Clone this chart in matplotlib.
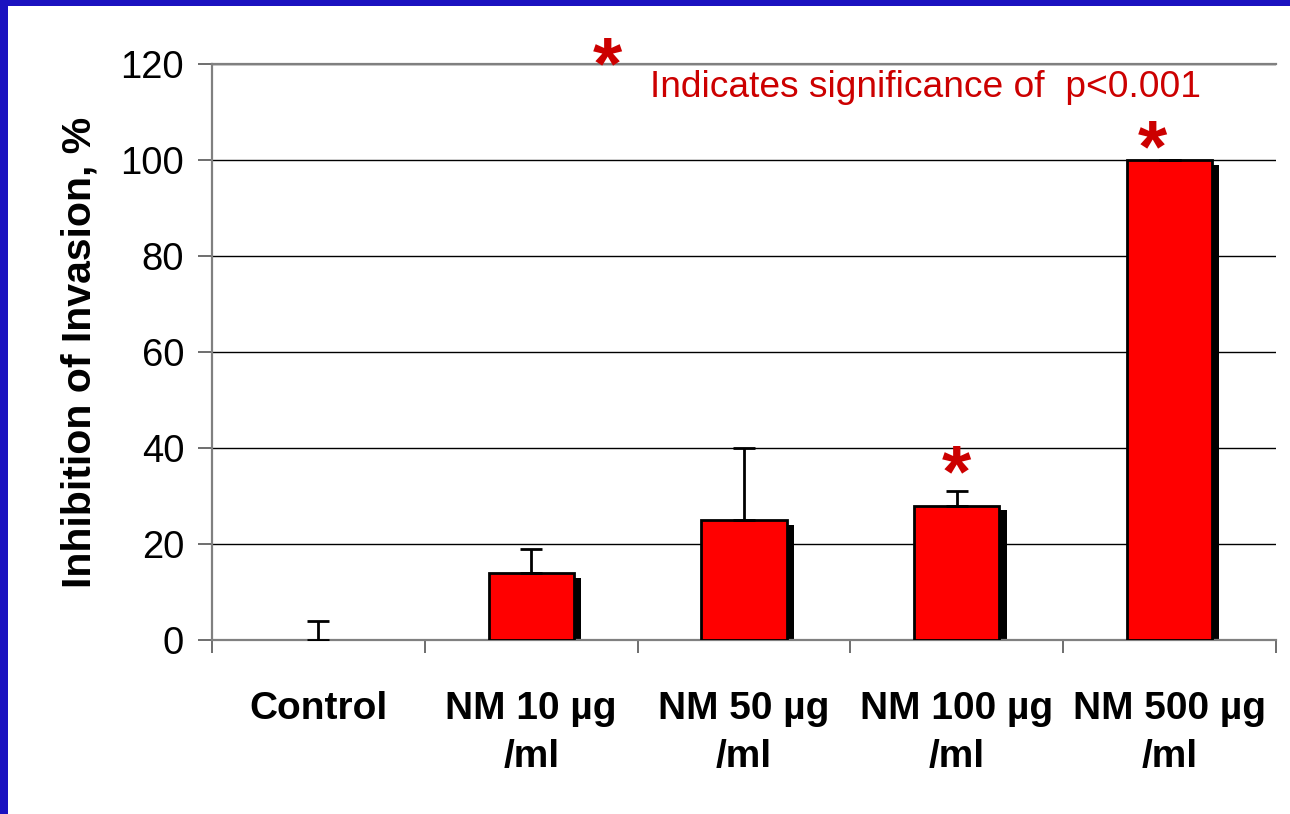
import matplotlib
matplotlib.use("Agg")
import matplotlib.pyplot as plt
from matplotlib.patches import Rectangle
import numpy as np

categories = ["Control", "NM 10 µg\n/ml", "NM 50 µg\n/ml", "NM 100 µg\n/ml", "NM 500 µg\n/ml"]
values = [0, 14, 25, 28, 100]
errors = [4, 5, 15, 3, 0]
star_heights = [None, None, None, 34, 101.8]
yticks = [0, 20, 40, 60, 80, 100, 120]
note_text = "Indicates significance of  p<0.001"

plt.rcParams['font.family'] = ['Liberation Sans', 'DejaVu Sans']

fig = plt.figure(figsize=(12.9, 8.14), dpi=100)
fig.patch.set_facecolor('white')
# blue frame
fig.patches.append(Rectangle((0, 1 - 6 / 814), 1, 6 / 814, transform=fig.transFigure,
                             facecolor='#1B12C0', edgecolor='none', zorder=0))
fig.patches.append(Rectangle((0, 0), 8 / 1290, 1, transform=fig.transFigure,
                             facecolor='#1B12C0', edgecolor='none', zorder=0))

ax = fig.add_axes([212 / 1290, (814 - 640) / 814, (1276 - 212) / 1290, (640 - 64) / 814])
x = np.arange(len(categories))
width = 0.4
sdx = 0.034
sdy = 1.0

# shadows and bars (skip zero-height bars)
for xi, v in zip(x, values):
    if v > 0:
        ax.bar(xi + sdx, max(v - sdy, 0), width=width, color='black', edgecolor='none', zorder=2)
        ax.bar(xi, v, width=width, color='#FF0000', edgecolor='black', linewidth=2, zorder=3)
ax.errorbar(x, values, yerr=[np.zeros(len(values)), errors], fmt='none', ecolor='black',
            elinewidth=2, capsize=8, capthick=2, zorder=4)

for xi, s in zip(x, star_heights):
    if s is not None:
        ax.text(xi - (0.08 if s > 100 else 0), s, '*', color='#CC0000', fontsize=54, fontweight='bold',
                ha='center', va='center', zorder=5)

ax.text(1.356, 119.0, '*', color='#CC0000', fontsize=54, fontweight='bold', ha='center', va='center',
        clip_on=False)
ax.text(1.56, 115.2, note_text, color='#CC0000', fontsize=26.7, ha='left', va='center')

ax.set_xlim(-0.5, len(categories) - 0.5)
ax.set_ylim(0, 120)
ax.set_yticks(yticks)
ax.set_yticklabels([str(t) for t in yticks], fontsize=27.5)
ax.yaxis.grid(True, color='black', linewidth=1)
ax.set_axisbelow(True)

ax.set_xticks(x)
ax.set_xticklabels(categories, fontsize=28, fontweight='bold', linespacing=1.42, va='top')
ax.set_xticks(np.arange(len(categories) + 1) - 0.5, minor=True)
ax.tick_params(axis='x', which='major', length=0, pad=37)
ax.tick_params(axis='x', which='minor', length=9, width=1.2, color='#555555')
ax.tick_params(axis='y', length=10, width=1.2, color='#555555', pad=10)

for s in ['left', 'bottom', 'top']:
    ax.spines[s].set_color('#808080')
    ax.spines[s].set_linewidth(1.6)
ax.spines['right'].set_visible(False)

ax.set_ylabel('Inhibition of Invasion, %', fontsize=29.5, fontweight='bold', labelpad=16)

fig.savefig('out.png', dpi=100)
